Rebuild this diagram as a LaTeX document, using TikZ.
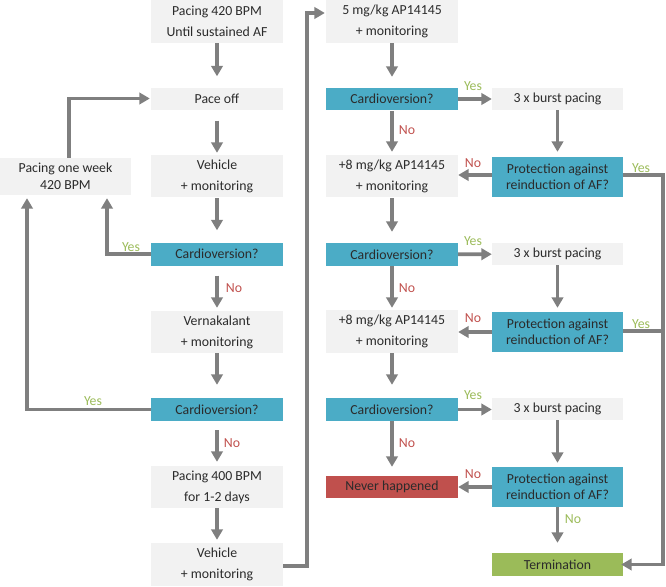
\documentclass[tikz,border=0pt]{standalone}
\usepackage{fontspec}
\setmainfont{Carlito}
\usetikzlibrary{arrows.meta,calc}
\definecolor{boxgray}{HTML}{F2F2F2}
\definecolor{qblue}{HTML}{4BACC6}
\definecolor{nred}{HTML}{C0504D}
\definecolor{tgreen}{HTML}{9BBB59}
\definecolor{arrgray}{HTML}{7F7F7F}
\definecolor{txt}{HTML}{2B2B2B}
\begin{document}
\begin{tikzpicture}[x=1pt,y=-1pt,
 base/.style={inner sep=0pt, minimum width=132pt, text=txt, align=center, font=\fontsize{13.8}{21}\selectfont},
 gbox/.style={base, fill=boxgray},
 qbox/.style={base, fill=qblue},
 rbox/.style={base, fill=nred},
 tbox/.style={base, fill=tgreen},
 tight/.style={font=\fontsize{13.8}{16.5}\selectfont},
 arr/.style={draw=arrgray, line width=3.8pt, -{Triangle[length=10.5pt,width=11.5pt]}},
 ln/.style={draw=arrgray, line width=3.8pt},
 yes/.style={text=tgreen, inner sep=0pt, font=\fontsize{13.8}{16}\selectfont},
 no/.style={text=nred, inner sep=0pt, font=\fontsize{13.8}{16}\selectfont}]
\useasboundingbox (0,0) rectangle (666,586);
% column 1
\node[gbox, minimum height=43pt] (p420) at (217,21.5) {Pacing 420 BPM\\Until sustained AF};
\node[gbox, minimum height=22pt] (paceoff) at (217,98.5) {Pace off};
\node[gbox, minimum height=42pt] (veh1) at (217,176) {Vehicle\\+ monitoring};
\node[qbox, minimum height=23pt] (cv1) at (217,254) {Cardioversion?};
\node[gbox, minimum height=42pt] (vern) at (217,332) {Vernakalant\\+ monitoring};
\node[qbox, minimum height=23pt] (cv2) at (217,409.5) {Cardioversion?};
\node[gbox, minimum height=42pt] (p400) at (217,487) {Pacing 400 BPM\\for 1-2 days};
\node[gbox, minimum height=43pt] (veh2) at (217,564.5) {Vehicle\\+ monitoring};
\node[gbox, tight, minimum width=131pt, minimum height=37pt] (lpw) at (65.5,176.5) {Pacing one week\\420 BPM};
% column 2
\node[gbox, minimum height=43pt] (mg5) at (392,21.5) {5 mg/kg AP14145\\+ monitoring};
\node[qbox, minimum height=22pt] (cvA) at (392,99) {Cardioversion?};
\node[gbox, minimum height=42pt] (mg8a) at (392,176) {+8 mg/kg AP14145\\+ monitoring};
\node[qbox, minimum height=23pt] (cvB) at (392,254.5) {Cardioversion?};
\node[gbox, minimum height=43pt] (mg8b) at (392,331.5) {+8 mg/kg AP14145\\+ monitoring};
\node[qbox, minimum height=23pt] (cvC) at (392,409.5) {Cardioversion?};
\node[rbox, minimum height=22pt] (never) at (392,487) {Never happened};
% column 3
\node[gbox, minimum width=131pt, minimum height=22pt] (bp1) at (557.5,99) {3 x burst pacing};
\node[qbox, tight, minimum width=131pt, minimum height=40pt] (prot1) at (557.5,177) {Protection against\\reinduction of AF?};
\node[gbox, minimum width=131pt, minimum height=22pt] (bp2) at (557.5,254) {3 x burst pacing};
\node[qbox, tight, minimum width=131pt, minimum height=40pt] (prot2) at (557.5,332) {Protection against\\reinduction of AF?};
\node[gbox, minimum width=131pt, minimum height=22pt] (bp3) at (557.5,409) {3 x burst pacing};
\node[qbox, tight, minimum width=131pt, minimum height=40pt] (prot3) at (557.5,487) {Protection against\\reinduction of AF?};
\node[tbox, minimum width=131pt, minimum height=23pt] (term) at (557.5,564.5) {Termination};
% vertical arrows column 1
\draw[arr, shorten >=11pt] (p420) -- (paceoff);
\draw[arr, shorten <=11pt, shorten >=2pt] (paceoff) -- (veh1);
\draw[arr, shorten <=1pt, shorten >=12pt] (veh1) -- (cv1);
\draw[arr, shorten <=10pt, shorten >=3pt] (cv1) -- (vern);
\draw[arr, shorten >=13pt] (vern) -- (cv2);
\draw[arr, shorten <=9pt, shorten >=4pt] (cv2) -- (p400);
\draw[arr, shorten >=3pt] (p400) -- (veh2);
% column 2
\draw[arr, shorten >=11pt] (mg5) -- (cvA);
\draw[arr, shorten <=1pt, shorten >=3pt] (cvA) -- (mg8a);
\draw[arr, shorten <=1pt, shorten >=11pt] (mg8a) -- (cvB);
\draw[arr, shorten >=2pt] (cvB) -- (mg8b);
\draw[arr, shorten >=13pt] (mg8b) -- (cvC);
\draw[arr, shorten >=9pt] (cvC) -- (never);
% column 3
\draw[arr, shorten >=5pt] (bp1) -- (prot1);
\draw[arr, shorten >=4pt] (bp2) -- (prot2);
\draw[arr, shorten >=4pt] (bp3) -- (prot3);
\draw[arr, shorten >=10pt] (prot3) -- (term);
% horizontal
\draw[arr] (cvA) -- (bp1);
\draw[arr] (cvB) -- (bp2);
\draw[arr] (cvC.east) -- (cvC.east -| bp3.west);
\draw[arr] ([yshift=2pt]prot1.west) -- ([yshift=2pt]prot1.west -| mg8a.east);
\draw[arr] (prot2.west) -- (prot2.west -| mg8b.east);
\draw[arr] (prot3.west) -- (prot3.west -| never.east);
% right Yes loops
\coordinate (rx) at (663,0);
\draw[arr, shorten >=-2pt] ([yshift=2pt]prot1.east) -| (rx |- term.east) -- (term.east);
\draw[ln] ([yshift=1pt]prot2.east) -- ([yshift=1pt]prot2.east -| rx);
% left loops
\draw[arr, shorten >=1pt] ([xshift=3.5pt]lpw.north) |- (paceoff.west);
\draw[arr, shorten >=3pt] (cv1.west) -| ($(lpw.south)+(41.5,0)$);
\draw[arr, shorten >=3pt] (cv2.west) -| ($(lpw.south)+(-38.5,0)$);
\coordinate (k1) at (307,13);
\draw[arr, shorten >=1pt] ([yshift=-1.5pt]veh2.east) -| (k1) -- (k1 -| mg5.west);
% labels
\node[yes] (y1) at (131,247) {Yes};
\node[no] (n1) at (234,288) {No};
\node[yes] (y2) at (93,401) {Yes};
\node[no] (n2) at (232,443) {No};
\node[yes] (y3) at (473,86) {Yes};
\node[no] (n3) at (407,130) {No};
\node[no] (n4) at (473,163) {No};
\node[yes] (y4) at (641,168) {Yes};
\node[yes] (y5) at (473,241) {Yes};
\node[no] (n5) at (407,288) {No};
\node[no] (n6) at (473,318) {No};
\node[yes] (y6) at (641,324) {Yes};
\node[yes] (y7) at (473,395) {Yes};
\node[no] (n7) at (407,443) {No};
\node[no] (n8) at (473,474) {No};
\node[yes] (y8) at (573,519) {No};
\end{tikzpicture}
\end{document}
